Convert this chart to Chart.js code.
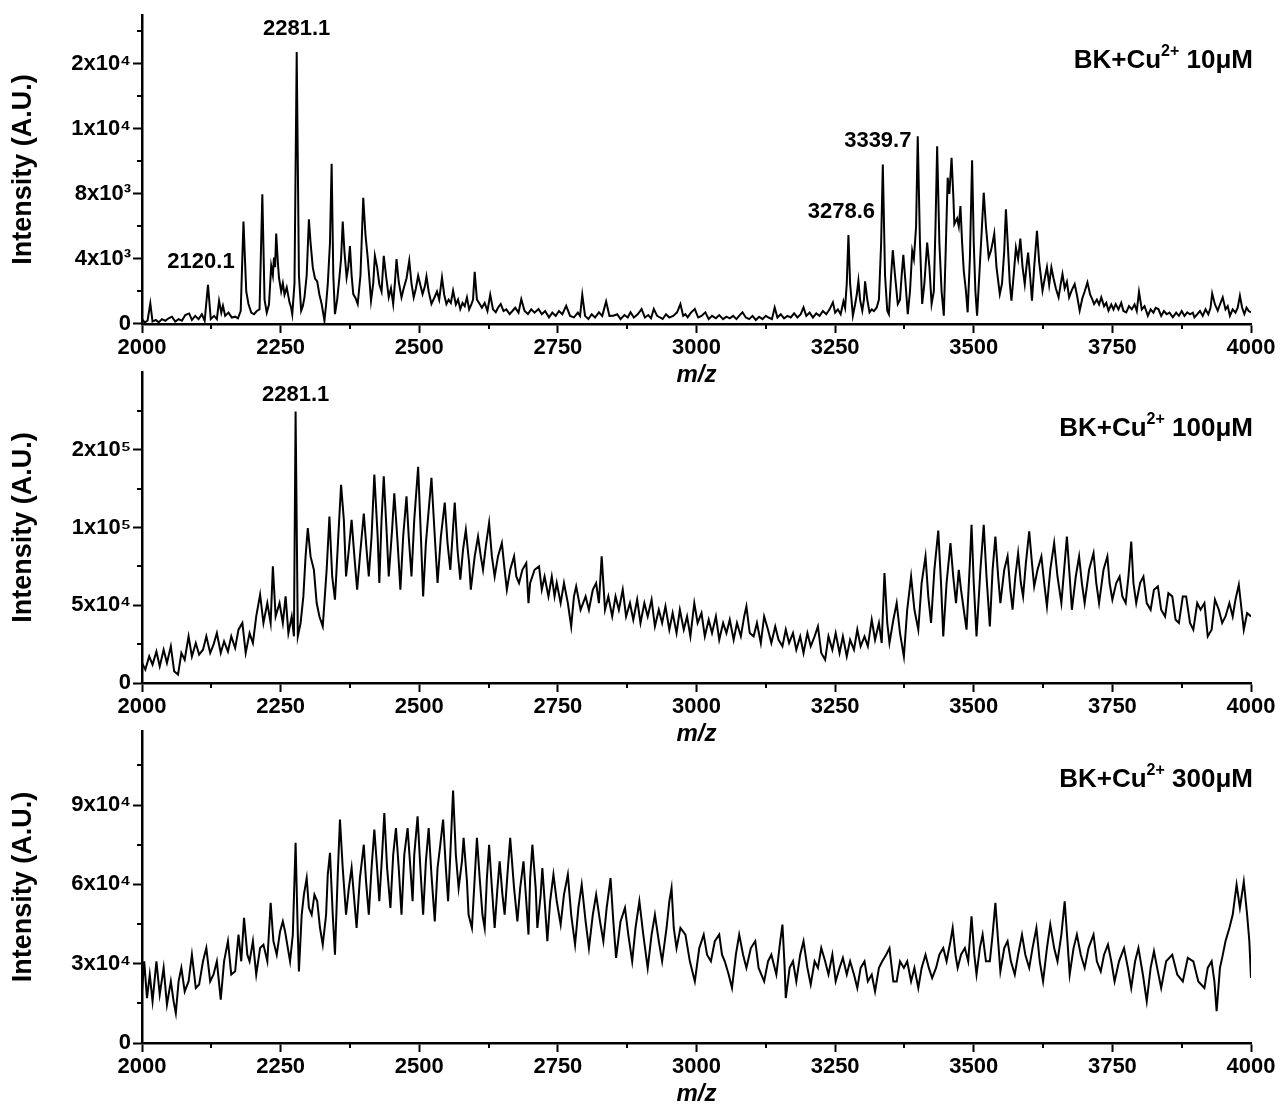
<!DOCTYPE html>
<html><head><meta charset="utf-8">
<script src="https://cdn.jsdelivr.net/npm/chart.js@4.4.0/dist/chart.umd.min.js"></script>
<style>
html,body{margin:0;padding:0;background:#fff;overflow:hidden;width:1280px;height:1106px;position:relative}
canvas{position:absolute;left:0;top:0}
</style></head><body>
<canvas id="c1" width="1280" height="1120"></canvas>
<canvas id="c2" width="1280" height="1120"></canvas>
<canvas id="c3" width="1280" height="1120"></canvas>
<script>
// ---------- DATA ----------
const xTicks = [2000,2250,2500,2750,3000,3250,3500,3750,4000];
const xMinor = [2125,2375,2625,2875,3125,3375,3625,3875];

const yTicks10 = [0,4000,8000,12000,16000];
const yLabels10 = ['0','4x10³','8x10³','1x10⁴','2x10⁴'];
const yMinor10 = [2000,6000,10000,14000,18000];
const yTicks100 = [0,50000,100000,150000];
const yLabels100 = ['0','5x10⁴','1x10⁵','2x10⁵'];
const yMinor100 = [25000,75000,125000,175000];
const yTicks300 = [0,30000,60000,90000];
const yLabels300 = ['0','3x10⁴','6x10⁴','9x10⁴'];
const yMinor300 = [15000,45000,75000,105000];

const peaks10 = [{text:'2120.1',mz:2119,y:2410},{text:'2281.1',mz:2279,y:16730},{text:'3278.6',mz:3274,y:5480},{text:'3339.7',mz:3336,y:9820}];
const peaks100 = [{text:'2281.1',mz:2277,y:174600}];
const peaks300 = [];

// [m/z, intensity]
const spectrum10 = [[2000,300],[2005,100],[2010,200],[2015,1270],[2019,150],[2025,250],[2030,100],[2036,300],[2042,200],[2048,350],[2054,450],[2060,150],[2066,300],[2072,200],[2078,550],[2085,650],[2090,250],[2096,500],[2102,300],[2108,600],[2113,200],[2119,2410],[2124,300],[2130,500],[2135,300],[2139,1430],[2143,700],[2146,1120],[2150,500],[2156,700],[2162,400],[2168,450],[2173,350],[2178,800],[2183,6300],[2188,2000],[2192,1230],[2197,700],[2202,600],[2207,800],[2212,900],[2217,7980],[2221,1500],[2225,700],[2229,1200],[2233,3580],[2236,3000],[2238,4090],[2240,3500],[2242,5560],[2245,3800],[2247,2860],[2251,2000],[2254,2500],[2257,1800],[2261,2250],[2264,1700],[2266,1330],[2269,1000],[2271,600],[2275,2500],[2279,16730],[2283,3000],[2287,820],[2290,1100],[2293,1640],[2297,3000],[2301,6440],[2304,5000],[2308,3480],[2312,2800],[2316,2620],[2320,1800],[2324,1230],[2329,200],[2332,1200],[2335,2450],[2339,5000],[2342,9860],[2345,3000],[2348,610],[2352,1500],[2356,2860],[2359,4000],[2362,6300],[2365,4500],[2369,2860],[2372,3500],[2375,4800],[2378,3000],[2381,1840],[2385,1600],[2389,1230],[2394,3000],[2399,7770],[2403,5500],[2407,4090],[2410,2800],[2413,1430],[2417,2500],[2420,4190],[2424,3500],[2428,2450],[2432,2000],[2436,4190],[2440,3000],[2445,1640],[2449,2200],[2453,1230],[2456,2500],[2459,3990],[2463,2600],[2468,1640],[2472,2200],[2477,2800],[2482,3890],[2486,2500],[2490,1640],[2494,2200],[2498,2970],[2502,2400],[2506,1840],[2510,2300],[2513,2920],[2517,2000],[2522,1230],[2527,1600],[2532,2000],[2536,1500],[2541,2860],[2545,1800],[2549,1230],[2553,1500],[2557,1300],[2561,2050],[2566,1200],[2570,1500],[2574,920],[2578,1300],[2582,1100],[2586,1640],[2590,900],[2594,1200],[2597,1500],[2600,3210],[2604,1500],[2609,1230],[2613,1000],[2618,1300],[2623,800],[2628,1800],[2633,900],[2638,720],[2642,1000],[2647,1230],[2652,800],[2657,900],[2663,610],[2668,800],[2673,1000],[2679,700],[2684,1530],[2690,800],[2696,610],[2702,900],[2708,700],[2715,920],[2721,600],[2727,800],[2734,410],[2740,700],[2746,500],[2752,800],[2758,600],[2765,1120],[2772,500],[2779,410],[2786,700],[2790,500],[2794,1800],[2799,500],[2805,310],[2811,600],[2817,400],[2824,720],[2830,500],[2837,1390],[2843,500],[2850,510],[2857,600],[2863,300],[2870,550],[2876,400],[2881,720],[2887,400],[2894,600],[2901,920],[2907,400],[2913,550],[2918,350],[2923,920],[2929,500],[2934,400],[2939,310],[2945,600],[2951,400],[2958,500],[2965,720],[2971,1230],[2976,500],[2980,600],[2984,410],[2990,700],[2997,920],[3003,400],[3009,500],[3016,720],[3022,300],[3028,500],[3035,350],[3041,550],[3048,300],[3054,450],[3060,350],[3066,500],[3072,300],[3078,550],[3083,720],[3089,400],[3095,300],[3101,500],[3107,250],[3113,450],[3119,300],[3125,500],[3130,400],[3136,300],[3141,1020],[3146,400],[3152,600],[3158,350],[3164,500],[3170,400],[3176,650],[3182,400],[3188,600],[3193,1020],[3198,500],[3204,700],[3210,400],[3216,650],[3222,500],[3228,800],[3234,600],[3240,900],[3246,1330],[3250,700],[3255,900],[3260,600],[3265,1390],[3268,1000],[3271,2500],[3274,5480],[3277,2500],[3282,510],[3286,1200],[3289,1800],[3292,2660],[3295,1500],[3299,820],[3302,1500],[3304,2620],[3308,1500],[3312,720],[3316,900],[3320,800],[3325,1020],[3329,1500],[3333,5000],[3336,9820],[3340,3000],[3344,820],[3347,600],[3351,3000],[3354,4540],[3358,3000],[3363,1230],[3367,1500],[3370,3000],[3373,4250],[3377,2500],[3381,610],[3385,2000],[3389,4500],[3392,4000],[3396,6000],[3399,11550],[3403,5000],[3407,1230],[3411,2500],[3416,5010],[3420,3500],[3424,1230],[3428,2000],[3431,6000],[3434,10940],[3438,5000],[3442,2000],[3446,510],[3449,4000],[3453,9000],[3456,8000],[3460,10230],[3463,8000],[3465,6140],[3470,6500],[3473,6000],[3476,7260],[3479,5000],[3482,3270],[3486,2000],[3489,720],[3493,4000],[3497,10080],[3500,5000],[3503,2000],[3506,510],[3510,3000],[3514,5500],[3518,8080],[3522,6000],[3527,4090],[3531,4500],[3534,5000],[3537,5560],[3541,3500],[3547,1840],[3551,2500],[3555,4500],[3558,7060],[3562,4500],[3565,2500],[3568,1430],[3572,3000],[3576,4700],[3580,4000],[3584,5260],[3588,3500],[3592,2450],[3595,3500],[3598,4400],[3602,2800],[3605,1430],[3609,3500],[3614,5730],[3618,3800],[3624,2050],[3628,2800],[3632,3500],[3636,2400],[3640,3480],[3644,2800],[3648,2200],[3653,1640],[3657,2500],[3660,3070],[3664,2200],[3668,2600],[3672,1640],[3677,2100],[3682,2450],[3686,1800],[3691,820],[3696,1600],[3700,2000],[3705,2560],[3710,1800],[3714,1500],[3717,1230],[3722,1500],[3726,1200],[3730,1640],[3735,1100],[3739,1300],[3743,820],[3748,1200],[3752,900],[3756,1230],[3761,900],[3766,1300],[3770,800],[3775,720],[3780,1100],[3785,900],[3790,1200],[3794,800],[3798,1980],[3803,900],[3808,1100],[3814,510],[3819,900],[3824,700],[3828,1000],[3833,920],[3838,500],[3843,800],[3848,600],[3853,700],[3859,410],[3865,700],[3870,500],[3875,800],[3880,500],[3885,720],[3890,600],[3895,700],[3898,410],[3903,600],[3908,800],[3913,500],[3918,900],[3923,600],[3927,1000],[3930,1880],[3935,1200],[3940,820],[3944,1200],[3949,1640],[3954,900],[3958,1100],[3962,510],[3967,900],[3972,700],[3976,1000],[3980,1740],[3984,1000],[3988,610],[3992,1000],[3996,800],[4000,720]];

const spectrum100 = [[2000,12900],[2006,8600],[2013,17100],[2019,11800],[2026,20300],[2032,10700],[2039,21400],[2045,12900],[2052,23600],[2058,7500],[2065,5400],[2071,19300],[2077,15000],[2084,30000],[2090,17100],[2097,25700],[2103,18200],[2110,21400],[2116,30000],[2123,19300],[2129,24600],[2135,32100],[2142,19300],[2148,26800],[2155,20300],[2161,30000],[2168,22500],[2174,34300],[2181,38600],[2187,19300],[2194,32100],[2200,25700],[2206,42800],[2213,56800],[2219,38600],[2226,51400],[2232,38600],[2236,75000],[2241,42800],[2248,51400],[2254,38600],[2259,55700],[2264,32100],[2270,42800],[2274,30000],[2277,174600],[2281,30000],[2286,38600],[2291,55700],[2295,81400],[2299,99600],[2304,81400],[2310,72800],[2315,51400],[2320,42800],[2326,36400],[2333,72800],[2338,107000],[2343,68500],[2348,53600],[2354,94200],[2359,127500],[2364,105000],[2368,68500],[2373,85700],[2378,105000],[2383,81400],[2388,60000],[2393,81400],[2400,109000],[2405,85700],[2409,68500],[2414,94200],[2419,134000],[2425,94200],[2428,64300],[2432,105000],[2436,133000],[2441,98500],[2445,68500],[2451,98500],[2455,122000],[2461,90000],[2466,60000],[2471,94200],[2477,120000],[2481,94200],[2486,68500],[2491,105000],[2498,139000],[2503,94200],[2507,55700],[2512,90000],[2517,111000],[2522,132000],[2528,94200],[2533,64300],[2539,94200],[2546,116000],[2551,90000],[2556,72800],[2564,116000],[2569,85700],[2574,66400],[2579,85700],[2584,98500],[2590,77100],[2593,60000],[2600,81400],[2606,94200],[2611,81400],[2615,72800],[2620,87800],[2626,103000],[2631,81400],[2636,68500],[2642,81400],[2649,90000],[2654,72800],[2658,60000],[2664,72800],[2671,81400],[2675,68500],[2680,64300],[2686,72800],[2693,77100],[2697,51400],[2700,64300],[2708,72800],[2716,75000],[2721,60000],[2726,68500],[2733,55700],[2739,68500],[2744,55700],[2748,64300],[2755,51400],[2761,64300],[2768,51400],[2774,36400],[2779,55700],[2783,62100],[2791,47100],[2800,55700],[2806,47100],[2813,60000],[2819,64300],[2824,51400],[2829,81400],[2835,47100],[2841,55700],[2848,42800],[2854,55700],[2860,47100],[2867,60000],[2873,42800],[2880,51400],[2886,40700],[2893,53600],[2899,38600],[2906,51400],[2912,42800],[2919,53600],[2925,36400],[2932,47100],[2938,38600],[2944,49300],[2951,34300],[2957,45000],[2964,32100],[2970,47100],[2977,34300],[2983,42800],[2989,30000],[2996,51400],[3002,38600],[3009,45000],[3015,30000],[3022,40700],[3028,32100],[3035,42800],[3041,27800],[3048,38600],[3054,32100],[3060,40700],[3067,27800],[3073,38600],[3080,30000],[3086,42800],[3090,49300],[3096,32100],[3103,30000],[3109,38600],[3116,25700],[3122,42800],[3129,34300],[3135,25700],[3142,36400],[3148,27800],[3155,23600],[3161,34300],[3167,25700],[3174,32100],[3180,21400],[3187,30000],[3193,19300],[3200,32100],[3206,23600],[3213,30000],[3219,36400],[3225,19300],[3232,15000],[3238,30000],[3245,21400],[3251,32100],[3258,19300],[3264,30000],[3271,17100],[3277,27800],[3284,21400],[3290,34300],[3296,23600],[3303,30000],[3309,23600],[3316,40700],[3322,27800],[3329,38600],[3334,25700],[3339,70700],[3344,38600],[3348,25700],[3355,40700],[3361,51400],[3367,32100],[3374,17100],[3380,47100],[3387,68500],[3393,47100],[3400,34300],[3406,64300],[3413,81400],[3418,55700],[3423,38600],[3429,72800],[3436,98000],[3441,64300],[3445,30000],[3451,64300],[3458,90000],[3463,68500],[3468,51400],[3473,72800],[3477,60000],[3482,47100],[3487,34300],[3493,77100],[3496,101700],[3500,64300],[3505,30000],[3512,72800],[3518,101700],[3523,68500],[3529,36400],[3534,72800],[3539,94200],[3544,68500],[3548,51400],[3555,72800],[3561,81400],[3566,60000],[3570,47100],[3575,68500],[3580,83500],[3585,64300],[3589,55700],[3594,77100],[3600,97500],[3605,77100],[3609,62100],[3615,72800],[3622,81400],[3627,64300],[3632,49300],[3638,72800],[3645,90000],[3651,68500],[3658,51400],[3663,72800],[3668,94200],[3673,68500],[3677,47100],[3684,68500],[3690,81400],[3695,64300],[3700,51400],[3708,72800],[3716,83500],[3721,64300],[3726,51400],[3734,72800],[3741,81400],[3745,64300],[3750,53600],[3757,64300],[3763,68500],[3768,55700],[3774,51400],[3779,68500],[3784,91000],[3788,64300],[3793,51400],[3800,64300],[3806,68500],[3812,51400],[3819,47100],[3825,60000],[3832,62100],[3838,47100],[3845,42800],[3851,57800],[3858,55700],[3864,40700],[3870,38600],[3877,55700],[3883,55700],[3890,38600],[3896,34300],[3903,51400],[3909,47100],[3916,51400],[3922,30000],[3929,34300],[3935,53600],[3942,47100],[3948,38600],[3954,42800],[3961,51400],[3967,42800],[3972,53600],[3978,63200],[3983,47100],[3987,34300],[3993,45000],[4000,42800]];

const spectrum300 = [[2000,19500],[2004,30900],[2009,17000],[2014,25900],[2019,15800],[2026,30900],[2032,18300],[2039,28400],[2045,14500],[2052,23300],[2057,15800],[2061,11300],[2066,23300],[2071,28400],[2077,19500],[2084,23300],[2090,33400],[2097,20800],[2103,22100],[2110,30900],[2116,35900],[2123,23300],[2129,25900],[2135,30900],[2142,16400],[2148,30900],[2155,38500],[2161,25900],[2168,27100],[2174,41000],[2179,30900],[2184,47300],[2190,33400],[2194,30900],[2200,38500],[2206,25900],[2213,35900],[2219,37200],[2226,30900],[2232,53000],[2237,38500],[2243,33400],[2249,42200],[2254,46000],[2258,42200],[2263,35900],[2267,30900],[2272,41000],[2277,75700],[2281,41000],[2283,27100],[2288,48500],[2292,56100],[2297,62400],[2301,51100],[2306,48500],[2311,56100],[2316,53600],[2321,43500],[2326,37200],[2332,48500],[2335,63700],[2339,71900],[2344,48500],[2348,33400],[2353,63700],[2357,84500],[2362,66200],[2368,48500],[2373,58600],[2378,66200],[2383,53600],[2387,43500],[2393,62400],[2400,75000],[2404,61200],[2409,48500],[2414,66200],[2419,80700],[2424,66200],[2428,53600],[2433,71200],[2437,87000],[2442,66200],[2448,51100],[2453,71200],[2458,81300],[2463,66200],[2468,48500],[2473,71200],[2479,81300],[2484,66200],[2488,53600],[2491,71200],[2497,85700],[2502,66200],[2507,48500],[2512,68700],[2517,81300],[2522,63700],[2528,46000],[2533,66200],[2538,75000],[2543,84500],[2548,66200],[2552,53600],[2556,71200],[2561,95500],[2566,71200],[2571,58600],[2577,68700],[2580,77600],[2586,61200],[2589,48500],[2595,43500],[2600,62400],[2604,77600],[2609,62400],[2614,48500],[2618,43500],[2622,62400],[2626,75000],[2631,58600],[2636,43500],[2641,58600],[2645,68700],[2650,56100],[2654,48500],[2659,63700],[2664,77600],[2671,58600],[2677,46000],[2682,58600],[2688,68700],[2693,53600],[2697,41000],[2700,62400],[2704,75000],[2710,58600],[2713,43500],[2719,56100],[2722,66200],[2727,51100],[2731,38500],[2736,53600],[2742,63700],[2748,53600],[2755,44800],[2761,56100],[2768,63700],[2774,48500],[2781,37200],[2787,51100],[2793,59900],[2800,46000],[2806,35900],[2813,48500],[2819,56100],[2826,46000],[2832,38500],[2838,51100],[2845,62400],[2850,46000],[2855,32200],[2863,46000],[2871,51100],[2877,41000],[2884,30900],[2890,43500],[2897,53600],[2904,41000],[2912,28400],[2919,41000],[2925,48500],[2932,38500],[2938,30900],[2946,43500],[2951,53600],[2955,58600],[2959,43500],[2964,35900],[2971,43500],[2980,41000],[2988,30900],[2997,23300],[3005,35900],[3013,41000],[3019,33400],[3026,30900],[3033,38500],[3041,41000],[3046,33400],[3051,30900],[3058,25900],[3064,20800],[3071,33400],[3077,41000],[3084,33400],[3090,28400],[3098,35900],[3106,38500],[3112,28400],[3122,23300],[3129,30900],[3135,33400],[3144,25900],[3151,38500],[3155,44800],[3159,28400],[3161,17000],[3168,28400],[3174,30900],[3180,23300],[3187,33400],[3193,38500],[3200,28400],[3206,22100],[3213,30900],[3219,28400],[3225,35900],[3232,30900],[3238,25900],[3245,33400],[3251,23300],[3258,28400],[3264,32200],[3271,25900],[3277,30900],[3284,25900],[3290,20800],[3296,28400],[3303,30900],[3309,23300],[3316,25900],[3322,19500],[3329,28400],[3335,30900],[3342,33400],[3348,35900],[3355,23300],[3361,23300],[3367,30900],[3374,28400],[3380,30900],[3387,23300],[3393,28400],[3400,20800],[3406,28400],[3413,33400],[3419,28400],[3425,24600],[3432,28400],[3438,33400],[3445,35900],[3451,30900],[3458,38500],[3462,43500],[3467,33400],[3471,28400],[3477,33400],[3484,35900],[3490,30900],[3496,47900],[3501,33400],[3505,25900],[3511,35900],[3516,41000],[3522,30900],[3529,30900],[3534,41000],[3539,53000],[3544,38500],[3548,27100],[3555,35900],[3561,38500],[3567,30900],[3574,25900],[3580,33400],[3587,41000],[3593,33400],[3600,28400],[3606,35900],[3613,43500],[3619,30900],[3625,23300],[3632,35900],[3638,44800],[3645,35900],[3651,30900],[3658,41000],[3664,53600],[3669,38500],[3673,25900],[3680,35900],[3686,41000],[3693,33400],[3700,28400],[3707,35900],[3716,41000],[3722,30900],[3729,27100],[3735,33400],[3742,37200],[3748,30900],[3754,23300],[3762,30900],[3771,35900],[3778,28400],[3784,20800],[3791,30900],[3797,35900],[3805,25900],[3812,15800],[3819,28400],[3825,34700],[3832,27100],[3838,20800],[3847,30900],[3858,33400],[3867,25900],[3877,23300],[3886,32200],[3896,30900],[3905,23300],[3916,20800],[3922,28400],[3929,30900],[3934,23300],[3938,12000],[3944,28400],[3948,32200],[3954,38500],[3961,43500],[3967,48500],[3974,59900],[3980,51100],[3987,61000],[3993,48500],[3997,38500],[4000,24600]];

// ---------- LAYOUT / STYLE ----------
const FONT = '"Liberation Sans", Arial, Helvetica, sans-serif';
const CANVAS_H = 1120;

const panels = [
  {id:'c1', data:spectrum10, yMax:19000, yTicks:yTicks10, yLabels:yLabels10, yMinor:yMinor10, peaks:peaks10,
   conc:'10μM', areaTop:13, axisY:324, titleY:375, tagBase:68, peakGap:17, peakDx:{'2120.1':-7,'3278.6':-7,'3339.7':-5}},
  {id:'c2', data:spectrum100, yMax:200000, yTicks:yTicks100, yLabels:yLabels100, yMinor:yMinor100, peaks:peaks100,
   conc:'100μM', areaTop:372, axisY:683, titleY:734, tagBase:436, peakGap:10, peakDx:{}},
  {id:'c3', data:spectrum300, yMax:118000, yTicks:yTicks300, yLabels:yLabels300, yMinor:yMinor300, peaks:peaks300,
   conc:'300μM', areaTop:731, axisY:1043, titleY:1094, tagBase:787, peakGap:10, peakDx:{}}
];

function decorPlugin(p) {
  return {
    id: 'decor',
    afterDraw(chart) {
      const ctx = chart.ctx, xs = chart.scales.x, ys = chart.scales.y, area = chart.chartArea;
      ctx.save();
      ctx.strokeStyle = '#000'; ctx.lineWidth = 2;
      xMinor.forEach(v => {
        const x = Math.round(xs.getPixelForValue(v));
        ctx.beginPath(); ctx.moveTo(x, area.bottom); ctx.lineTo(x, area.bottom + 5); ctx.stroke();
      });
      p.yMinor.forEach(v => {
        const y = Math.round(ys.getPixelForValue(v));
        ctx.beginPath(); ctx.moveTo(area.left, y); ctx.lineTo(area.left - 5, y); ctx.stroke();
      });
      ctx.fillStyle = '#000';
      ctx.font = 'bold 22px ' + FONT;
      ctx.textAlign = 'center'; ctx.textBaseline = 'alphabetic';
      p.peaks.forEach(pk => {
        const dx = p.peakDx[pk.text] || 0;
        ctx.fillText(pk.text, xs.getPixelForValue(pk.mz) + dx, ys.getPixelForValue(pk.y) - p.peakGap);
      });
      // sample tag
      const big = 'bold 26px ' + FONT, small = 'bold 16px ' + FONT;
      const parts = [['BK+Cu', big, 0], ['2+', small, -12], [' ' + p.conc, big, 0]];
      let total = 0;
      parts.forEach(pt => { ctx.font = pt[1]; total += ctx.measureText(pt[0]).width; });
      let x = 1253 - total;
      ctx.textAlign = 'left';
      parts.forEach(pt => { ctx.font = pt[1]; ctx.fillText(pt[0], x, p.tagBase + pt[2]); x += ctx.measureText(pt[0]).width; });
      ctx.restore();
    }
  };
}

panels.forEach(p => {
  const xBoxH = p.titleY + 14.4 - p.axisY;
  new Chart(document.getElementById(p.id), {
    type: 'line',
    data: { datasets: [{
      data: p.data.map(d => ({x: d[0], y: d[1]})),
      borderColor: '#000', borderWidth: 2, pointRadius: 0, tension: 0, fill: false
    }]},
    options: {
      responsive: false, animation: false, devicePixelRatio: 1,
      layout: { padding: { left: 0, right: 29, top: p.areaTop, bottom: CANVAS_H - (p.titleY + 14.4) } },
      plugins: { legend: {display: false}, tooltip: {enabled: false} },
      scales: {
        x: {
          type: 'linear', min: 2000, max: 4000,
          afterBuildTicks: s => { s.ticks = xTicks.map(v => ({value: v})); },
          afterFit: s => { s.height = xBoxH; },
          grid: { drawOnChartArea: false, drawTicks: true, tickLength: 9, tickWidth: 2, tickColor: '#000' },
          border: { display: true, color: '#000', width: 2.5 },
          ticks: { color: '#000', font: {family: FONT, size: 22, weight: 'bold'}, padding: 2, maxRotation: 0,
                   callback: v => String(v) },
          title: { display: true, text: 'm/z', color: '#000', padding: {top: 0, bottom: 0},
                   font: {family: FONT, size: 24, weight: 'bold', style: 'italic', lineHeight: 1.2} }
        },
        y: {
          type: 'linear', min: 0, max: p.yMax,
          afterBuildTicks: s => { s.ticks = p.yTicks.map(v => ({value: v})); },
          afterFit: s => { s.width = 142; },
          grid: { drawOnChartArea: false, drawTicks: true, tickLength: 9, tickWidth: 2, tickColor: '#000' },
          border: { display: true, color: '#000', width: 2.5 },
          ticks: { color: '#000', font: {family: FONT, size: 22, weight: 'bold'}, padding: 2,
                   callback: (v, i) => p.yLabels[i] },
          title: { display: true, text: 'Intensity (A.U.)', color: '#000', padding: {top: 7, bottom: 0},
                   font: {family: FONT, size: 27, weight: 'bold', lineHeight: 1.2} }
        }
      }
    },
    plugins: [decorPlugin(p)]
  });
});
</script>
</body></html>
